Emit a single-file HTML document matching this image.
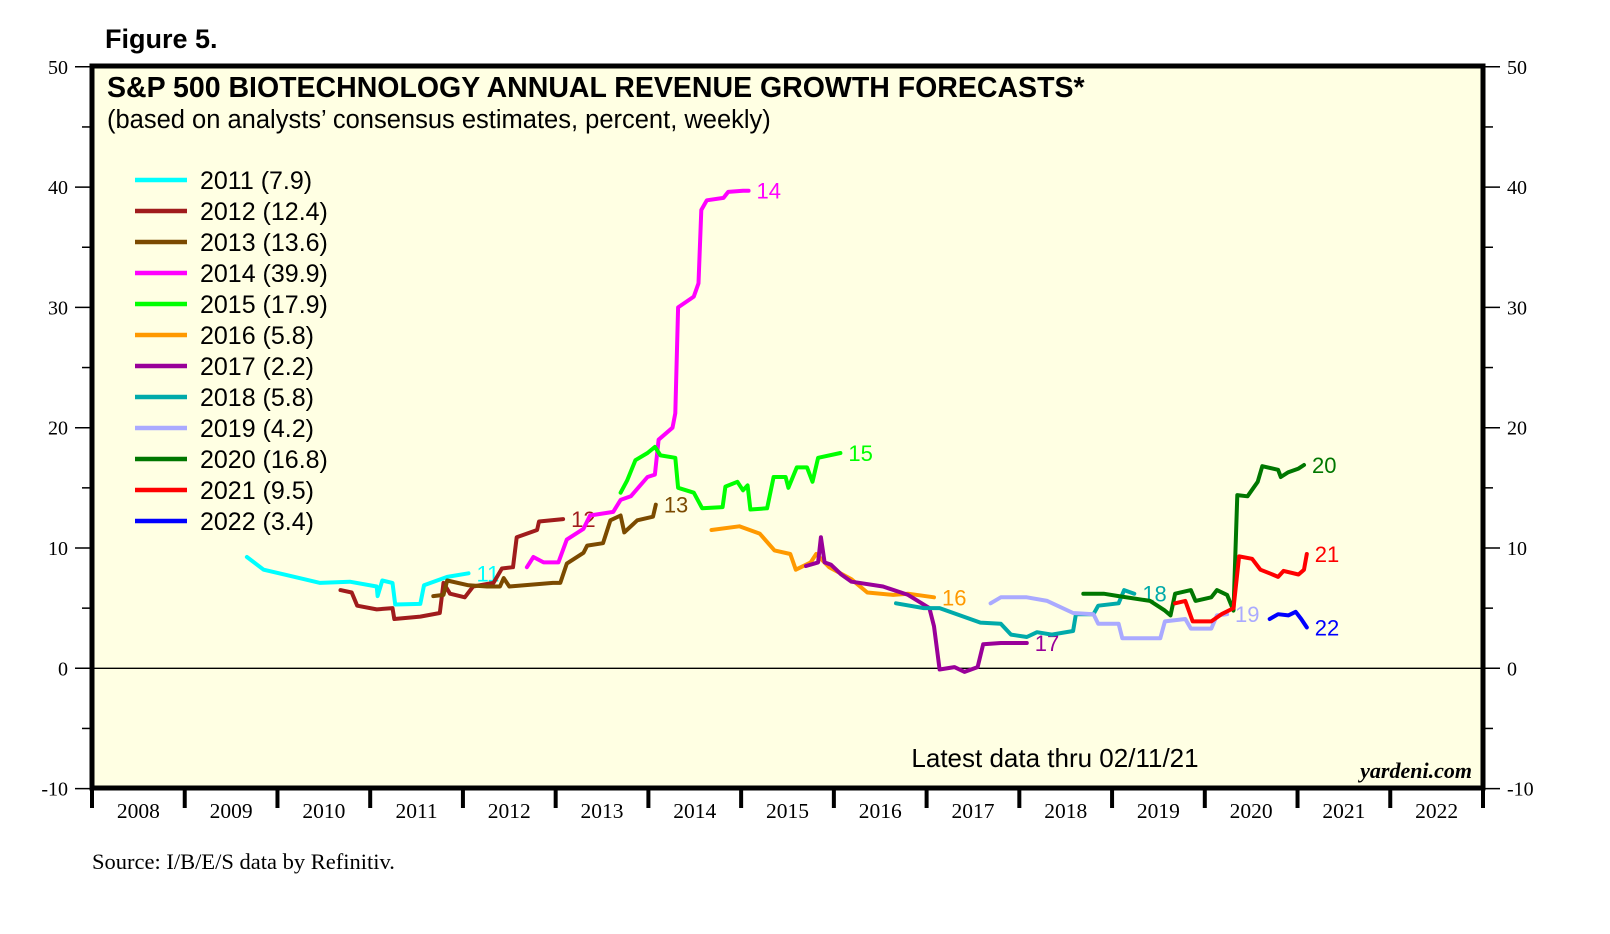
<!DOCTYPE html>
<html><head><meta charset="utf-8"><style>
html,body{margin:0;padding:0;background:#fff;}
svg{display:block;}
</style></head><body>
<svg id="chart" width="1610" height="934" viewBox="0 0 1610 934" xmlns="http://www.w3.org/2000/svg">
<text x="105" y="48" font-family="Liberation Sans, sans-serif" font-weight="bold" font-size="27">Figure 5.</text>
<rect x="92" y="66" width="1391" height="722" fill="#FFFFE3"/>
<g id="axes"></g>
<g id="series"></g>
<rect x="92" y="66" width="1391" height="722" fill="none" stroke="#000" stroke-width="5"/>
<text x="107" y="97" font-family="Liberation Sans, sans-serif" font-weight="bold" font-size="28.5">S&amp;P 500 BIOTECHNOLOGY ANNUAL REVENUE GROWTH FORECASTS*</text>
<text x="107" y="128" font-family="Liberation Sans, sans-serif" font-size="25.5">(based on analysts’ consensus estimates, percent, weekly)</text>
<g id="legend"></g>
<text x="1055" y="767" text-anchor="middle" font-family="Liberation Sans, sans-serif" font-size="26">Latest data thru  02/11/21</text>
<text x="1472" y="778" text-anchor="end" font-family="Liberation Serif, serif" font-style="italic" font-weight="bold" font-size="22">yardeni.com</text>
<text x="92" y="869" font-family="Liberation Serif, serif" font-size="22.5">Source: I/B/E/S data by Refinitiv.</text>
</svg>
<script>
const yearCats = [2008,2009,2010,2011,2012,2013,2014,2015,2016,2017,2018,2019,2020,2021,2022];
const yTicks = [-10,0,10,20,30,40,50];
const seriesNames = ["2011","2012","2013","2014","2015","2016","2017","2018","2019","2020","2021","2022"];
const legendValues = ["7.9","12.4","13.6","39.9","17.9","5.8","2.2","5.8","4.2","16.8","9.5","3.4"];
const seriesColors = ["#00FFFF","#A01C1C","#7B4A00","#FF00FF","#00FF00","#FF9900","#990099","#00AAAA","#AAAAFF","#007700","#FF0000","#0000FF"];
const endLabels = ["11","12","13","14","15","16","17","18","19","20","21","22"];
const s2011 = [[2009.67,9.25],[2009.85,8.2],[2010.1,7.75],[2010.46,7.1],[2010.78,7.2],[2011.07,6.8],[2011.08,6.0],[2011.13,7.3],[2011.24,7.1],[2011.27,5.3],[2011.54,5.35],[2011.58,6.9],[2011.83,7.6],[2012.06,7.9]];
const s2012 = [[2010.68,6.5],[2010.8,6.3],[2010.86,5.2],[2011.07,4.9],[2011.24,5.0],[2011.26,4.1],[2011.54,4.3],[2011.75,4.6],[2011.79,7.1],[2011.86,6.2],[2012.02,5.9],[2012.11,6.8],[2012.33,7.1],[2012.42,8.3],[2012.54,8.4],[2012.58,10.9],[2012.69,11.2],[2012.8,11.5],[2012.82,12.2],[2013.08,12.4]];
const s2013 = [[2011.68,6.0],[2011.79,6.1],[2011.83,7.3],[2012.06,6.9],[2012.26,6.8],[2012.4,6.8],[2012.44,7.5],[2012.5,6.8],[2012.97,7.1],[2013.05,7.1],[2013.12,8.7],[2013.3,9.6],[2013.34,10.2],[2013.51,10.4],[2013.59,12.3],[2013.7,12.7],[2013.74,11.3],[2013.88,12.3],[2014.05,12.6],[2014.08,13.6]];
const s2014 = [[2012.69,8.4],[2012.76,9.25],[2012.87,8.8],[2013.03,8.8],[2013.12,10.7],[2013.3,11.6],[2013.37,12.7],[2013.62,13.0],[2013.7,14.0],[2013.81,14.3],[2013.99,15.9],[2014.07,16.1],[2014.11,19.0],[2014.26,20.0],[2014.29,21.2],[2014.32,30.0],[2014.49,30.9],[2014.54,32.0],[2014.57,38.1],[2014.63,38.9],[2014.81,39.1],[2014.86,39.6],[2015.02,39.7],[2015.08,39.7]];
const s2015 = [[2013.7,14.6],[2013.77,15.6],[2013.86,17.3],[2013.99,17.9],[2014.07,18.4],[2014.13,17.7],[2014.29,17.5],[2014.32,15.0],[2014.49,14.6],[2014.58,13.3],[2014.8,13.4],[2014.83,15.1],[2014.96,15.5],[2015.02,14.8],[2015.07,15.2],[2015.1,13.2],[2015.28,13.3],[2015.35,15.9],[2015.48,15.9],[2015.51,15.0],[2015.6,16.7],[2015.71,16.7],[2015.77,15.5],[2015.83,17.5],[2016.07,17.9]];
const s2016 = [[2014.68,11.5],[2014.98,11.8],[2015.2,11.2],[2015.36,9.8],[2015.53,9.5],[2015.59,8.2],[2015.75,8.8],[2015.81,9.5],[2015.95,8.4],[2016.19,7.4],[2016.36,6.3],[2016.64,6.1],[2016.8,6.2],[2017.08,5.9]];
const s2017 = [[2015.7,8.5],[2015.83,8.8],[2015.86,10.9],[2015.9,8.8],[2015.97,8.6],[2016.08,7.8],[2016.19,7.2],[2016.53,6.8],[2016.8,6.1],[2017.03,5.0],[2017.08,3.5],[2017.14,-0.1],[2017.3,0.1],[2017.41,-0.3],[2017.55,0.1],[2017.61,2.0],[2017.8,2.1],[2018.08,2.1]];
const s2018 = [[2016.67,5.4],[2016.97,5.0],[2017.14,5.0],[2017.36,4.4],[2017.58,3.8],[2017.8,3.7],[2017.91,2.8],[2018.08,2.6],[2018.19,3.0],[2018.35,2.8],[2018.58,3.1],[2018.61,4.5],[2018.8,4.5],[2018.85,5.2],[2019.07,5.4],[2019.13,6.5],[2019.24,6.2]];
const s2019 = [[2017.69,5.4],[2017.8,5.9],[2018.08,5.9],[2018.3,5.6],[2018.58,4.6],[2018.8,4.5],[2018.85,3.7],[2019.07,3.7],[2019.11,2.5],[2019.52,2.5],[2019.57,3.9],[2019.79,4.1],[2019.85,3.3],[2020.07,3.3],[2020.13,4.4],[2020.24,4.5]];
const s2020 = [[2018.69,6.2],[2018.91,6.2],[2019.07,6.0],[2019.41,5.6],[2019.57,4.8],[2019.63,4.4],[2019.68,6.2],[2019.85,6.5],[2019.9,5.6],[2020.07,5.9],[2020.13,6.5],[2020.24,6.1],[2020.31,4.8],[2020.35,14.4],[2020.46,14.3],[2020.57,15.5],[2020.62,16.8],[2020.79,16.5],[2020.82,15.9],[2020.9,16.3],[2021.01,16.6],[2021.07,16.9]];
const s2021 = [[2019.68,5.4],[2019.79,5.6],[2019.87,3.9],[2020.07,3.9],[2020.18,4.5],[2020.31,5.0],[2020.37,9.3],[2020.51,9.1],[2020.6,8.2],[2020.73,7.8],[2020.79,7.6],[2020.85,8.1],[2021.01,7.8],[2021.07,8.2],[2021.1,9.5]];
const s2022 = [[2020.7,4.1],[2020.79,4.5],[2020.9,4.4],[2020.98,4.7],[2021.04,4.1],[2021.1,3.4]];
const allSeries = [s2011,s2012,s2013,s2014,s2015,s2016,s2017,s2018,s2019,s2020,s2021,s2022];

const NS="http://www.w3.org/2000/svg";
const X0=92, X1=1483, Y0=668.3, YU=12.03;
function xs(yr){return X0+(yr-2008)*(X1-X0)/15;}
function ys(v){return Y0-v*YU;}
function mk(tag,attrs,parent){const e=document.createElementNS(NS,tag);for(const k in attrs)e.setAttribute(k,attrs[k]);parent.appendChild(e);return e;}
const axes=document.getElementById('axes');
const ser=document.getElementById('series');
const leg=document.getElementById('legend');

const zl=mk('line',{x1:X0,x2:X1,y1:ys(0),y2:ys(0),stroke:'#000','stroke-width':1.3},axes);


for(let v=-10;v<=50;v+=5){
  const major=v%10===0;
  const tl=mk('line',{x1:major?75:82,x2:X0,y1:ys(v),y2:ys(v),stroke:'#000','stroke-width':1.5},axes);
  
  
  const tr=mk('line',{x1:X1,x2:major?1500:1493,y1:ys(v),y2:ys(v),stroke:'#000','stroke-width':1.5},axes);
  
  
}
yTicks.forEach(v=>{
  const l=mk('text',{x:68,y:ys(v)+7,'text-anchor':'end','font-family':'Liberation Serif, serif','font-size':20},axes);
  l.textContent=v;
  
  
  const r=mk('text',{x:1507,y:ys(v)+7,'font-family':'Liberation Serif, serif','font-size':20},axes);
  r.textContent=v;
  
  
});
for(let i=0;i<=yearCats.length;i++){
  const t=mk('line',{x1:xs(2008+i),x2:xs(2008+i),y1:788,y2:808,stroke:'#000','stroke-width':4},axes);
  
  
}
yearCats.forEach(y=>{
  const l=mk('text',{x:xs(y+0.5),y:818,'text-anchor':'middle','font-family':'Liberation Serif, serif','font-size':21.5},axes);
  l.textContent=y;
  
  
});
allSeries.forEach((s,i)=>{
  const d=s.map((p,j)=>(j?'L':'M')+xs(p[0]).toFixed(1)+' '+ys(p[1]).toFixed(1)).join(' ');
  const p=mk('path',{d:d,fill:'none',stroke:seriesColors[i],'stroke-width':4,'stroke-linejoin':'round','stroke-linecap':'round'},ser);
  
  
  const last=s[s.length-1];
  const t=mk('text',{x:xs(last[0])+8,y:ys(last[1])+8,fill:seriesColors[i],'font-family':'Liberation Sans, sans-serif','font-size':22},ser);
  t.textContent=endLabels[i];
  
  
});
seriesNames.forEach((n,i)=>{
  const y=180+i*31;
  const l=mk('line',{x1:135,x2:187,y1:y,y2:y,stroke:seriesColors[i],'stroke-width':4.5},leg);
  
  
  const t=mk('text',{x:200,y:y+9,'font-family':'Liberation Sans, sans-serif','font-size':25},leg);
  t.textContent=n+' ('+legendValues[i]+')';
  
  
});
</script>
</body></html>
